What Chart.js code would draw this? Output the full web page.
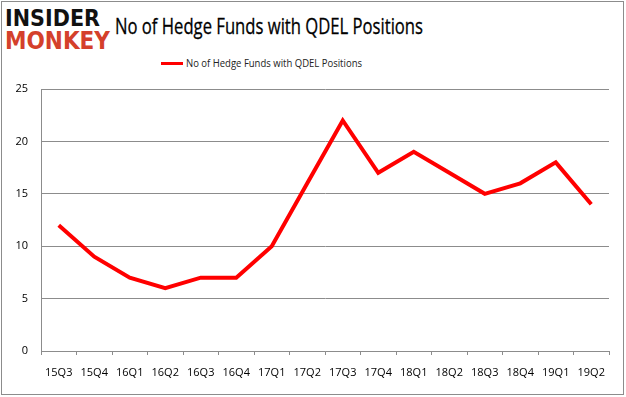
<!DOCTYPE html>
<html>
<head>
<meta charset="utf-8">
<script src="https://cdn.jsdelivr.net/npm/chart.js@4"></script>
<style>
  html, body { margin: 0; padding: 0; background: #fff; }
  #wrap { position: relative; width: 626px; height: 397px; }
  #frame { position: absolute; left: 1px; top: 1px; width: 621px; height: 392px; border: 1px solid #8c8c8c; }
  .fit { position: absolute; white-space: nowrap; transform-origin: 0 0; line-height: 1; }
  #logo1 { left: 5px; top: 7px; font-family: "DejaVu Sans", sans-serif; font-weight: bold; font-size: 23px; color: #111; }
  #logo2 { left: 5px; top: 29px; font-family: "DejaVu Sans", sans-serif; font-weight: bold; font-size: 24px; color: #d4402b; }
  #title { left: 115px; top: 14px; font-family: "Open Sans", sans-serif; font-size: 22px; color: #000; -webkit-text-stroke: 0.3px #000; }
  #legendLine { position: absolute; left: 161px; top: 62px; width: 22px; height: 3px; background: #ff0000; }
  #legend { left: 186px; top: 57px; font-family: "Open Sans", sans-serif; font-size: 11px; color: #222; }
  canvas { position: absolute; left: 0; top: 0; }
</style>
</head>
<body>
<div id="wrap">
  <div id="frame"></div>
  <div id="logo1" class="fit" data-w="95">INSIDER</div>
  <div id="logo2" class="fit" data-w="105">MONKEY</div>
  <div id="title" class="fit" data-w="308">No of Hedge Funds with QDEL Positions</div>
  <div id="legendLine"></div>
  <div id="legend" class="fit" data-w="176">No of Hedge Funds with QDEL Positions</div>
  <canvas id="chart" width="626" height="397"></canvas>
</div>
<script>
const quarters = ["15Q3", "15Q4", "16Q1", "16Q2", "16Q3", "16Q4", "17Q1", "17Q2",
  "17Q3", "17Q4", "18Q1", "18Q2", "18Q3", "18Q4", "19Q1", "19Q2"];
const hedgeFunds = [12, 9, 7, 6, 7, 7, 10, 16, 22, 17, 19, 17, 15, 16, 18, 14];
const yTicks = [0, 5, 10, 15, 20, 25];

// squeeze header texts to the widths seen in the picture
document.querySelectorAll(".fit").forEach((el) => {
  const w = el.getBoundingClientRect().width;
  el.style.transform = `scaleX(${el.dataset.w / w})`;
});

const tickFont = { family: "Open Sans", size: 11 };

new Chart(document.getElementById("chart").getContext("2d"), {
  type: "line",
  data: {
    labels: quarters,
    datasets: [{
      label: "No of Hedge Funds with QDEL Positions",
      data: hedgeFunds,
      borderColor: "#ff0000",
      borderWidth: 4,
      pointRadius: 0,
      tension: 0,
      fill: false,
    }],
  },
  options: {
    responsive: false,
    animation: false,
    layout: { padding: { top: 89, right: 17, bottom: 0, left: 0 } },
    plugins: { legend: { display: false }, tooltip: { enabled: false } },
    scales: {
      x: {
        offset: true,
        grid: { offset: true, display: true, drawOnChartArea: false, color: "#8c8c8c", tickLength: 4 },
        border: { color: "#8c8c8c" },
        ticks: { font: tickFont, color: "#000", padding: 11, maxRotation: 0, autoSkip: false },
        afterFit: (s) => { s.height = 46; },
      },
      y: {
        min: 0,
        max: 25,
        afterBuildTicks: (s) => { s.ticks = yTicks.map((v) => ({ value: v })); },
        grid: { color: "#8c8c8c", drawTicks: false },
        border: { color: "#8c8c8c" },
        ticks: { font: tickFont, color: "#000", padding: 13 },
        afterFit: (s) => { s.width = 41; },
      },
    },
  },
});
</script>
</body>
</html>
